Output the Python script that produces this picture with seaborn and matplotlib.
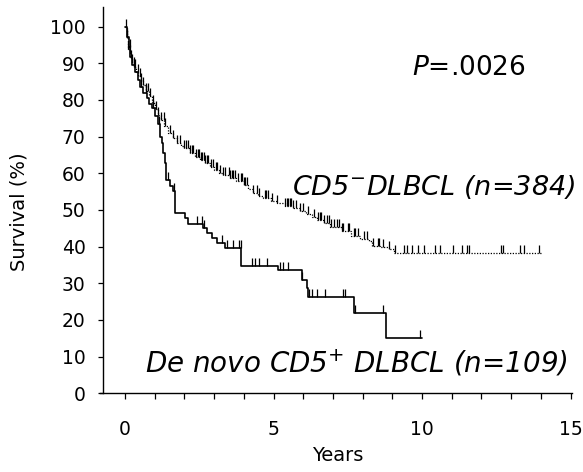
import numpy as np
import pandas as pd
import matplotlib.pyplot as plt
import seaborn as sns
from matplotlib.ticker import MultipleLocator

# CD5- DLBCL (n=384): step times (years) and survival (%)
neg_t = [0, 0.05, 0.1, 0.15, 0.2, 0.25, 0.3, 0.38, 0.45, 0.52, 0.6, 0.7, 0.8, 0.9, 1.0,
         1.1, 1.2, 1.32, 1.45, 1.6, 1.75, 1.88, 2.0, 2.18, 2.35, 2.52, 2.7, 2.85, 3.0,
         3.15, 3.3, 3.55, 3.75, 4.0, 4.15, 4.3, 4.48, 4.65, 4.9, 5.1, 5.4, 5.65, 5.9,
         6.1, 6.3, 6.45, 6.7, 6.9, 7.3, 7.6, 7.9, 8.2, 8.3, 8.6, 8.9, 9.05]
neg_s = [100, 97, 94, 92.8, 91.5, 90.3, 89, 87.6, 86.5, 85.2, 84, 82.5, 81, 79.2, 77.5,
         76, 74.5, 72.8, 71, 69.6, 68.3, 67.5, 66.8, 65.6, 64.5, 63.6, 62.7, 61.8, 61,
         60.2, 59.5, 58.8, 57.8, 56.8, 55.6, 54.5, 53.8, 53.2, 52.5, 51.8, 51.1, 50.4, 49.7,
         49, 48.2, 47.3, 46.4, 45.4, 44.2, 42.8, 42.2, 41.6, 40.2, 39.8, 39.4, 38.2]
neg_end = 14.0
neg_cens = [0.05, 0.1, 0.15, 0.2, 0.25, 0.3, 0.35, 0.42, 0.5, 0.55, 0.62, 0.7, 0.78, 0.85,
            0.95, 1.05, 1.1, 1.2, 1.3, 1.35, 1.5, 1.62, 1.75, 1.85, 2.0, 2.05, 2.12, 2.2,
            2.25, 2.3, 2.38, 2.45, 2.5, 2.55, 2.6, 2.65, 2.7, 2.75, 2.8, 2.9, 2.95, 3.05,
            3.1, 3.2, 3.3, 3.35, 3.5, 3.55, 3.6, 3.65, 3.7, 3.8, 3.9, 3.95, 4.0, 4.05, 4.1,
            4.3, 4.45, 4.5, 4.7, 4.75, 4.8, 4.95, 5.1, 5.4, 5.45, 5.5, 5.55, 5.6, 5.65,
            5.75, 5.9, 6.0, 6.15, 6.35, 6.5, 6.55, 6.6, 6.7, 6.8, 6.85, 6.95, 7.05, 7.15,
            7.2, 7.3, 7.35, 7.5, 7.55, 7.7, 7.75, 7.85, 8.05, 8.15, 8.35, 8.5, 8.55, 8.7,
            8.9, 9.1, 9.4, 9.5, 9.65, 9.85, 10.05, 10.45, 10.6, 11.05, 11.35, 11.5, 11.58,
            12.65, 12.72, 13.3, 13.42, 13.95]

# De novo CD5+ DLBCL (n=109)
pos_t = [0, 0.05, 0.12, 0.17, 0.25, 0.33, 0.45, 0.5, 0.6, 0.73, 0.82, 0.9, 1.0, 1.1,
         1.18, 1.24, 1.29, 1.33, 1.37, 1.5, 1.6, 1.68, 2.02, 2.13, 2.64, 2.75, 2.92,
         3.09, 3.37, 3.91, 5.16, 5.95, 6.12, 6.17, 7.71, 8.79]
pos_s = [100, 97.2, 94.5, 91.7, 89.5, 87.5, 85.5, 83.5, 82, 80.5, 79, 77.8, 75.5, 73.5,
         70, 68.2, 65.5, 62.7, 58.2, 56.4, 55.2, 49.1, 47.7, 46.3, 45, 43.6, 42.3,
         41.1, 39.5, 34.8, 33.6, 31, 28.6, 26.3, 22.0, 15.0]
pos_end = 10.0
pos_cens = [0.03, 0.08, 0.15, 0.3, 0.55, 0.7, 0.95, 1.15, 1.45, 1.65, 2.43, 2.6, 2.66,
            3.26, 3.42, 3.65, 3.85, 3.89, 4.27, 4.38, 4.52, 4.77, 5.22, 5.31, 5.5, 5.95,
            6.21, 6.29, 6.45, 6.73, 7.33, 7.41, 7.74, 8.68, 9.93]

sns.set_style("ticks")
plt.rcParams['font.family'] = ['DejaVu Sans']
plt.rcParams['mathtext.fontset'] = 'dejavusans'
for key in ['text.color', 'axes.labelcolor', 'xtick.color', 'ytick.color']:
    plt.rcParams[key] = 'black'

fig = plt.figure(figsize=(5.83, 4.72), dpi=100)
ax = fig.add_axes([0.1707, 0.1667, 0.8105, 0.819])

tick_mark = [(0, 0), (0, 1)]


def km(t, s, end, cens, ls, lw):
    df = pd.DataFrame({'t': t + [end], 's': s + [s[-1]]})
    sns.lineplot(data=df, x='t', y='s', drawstyle='steps-post', color='black',
                 linestyle=ls, linewidth=lw, estimator=None, ax=ax)
    idx = np.searchsorted(t, cens, side='right') - 1
    ax.plot(cens, np.array(s)[idx], ls='none', marker=tick_mark, ms=11.5,
            mec='black', mew=0.9)


km(neg_t, neg_s, neg_end, neg_cens, (0, (1, 1.2)), 0.9)
km(pos_t, pos_s, pos_end, pos_cens, '-', 1.2)

ax.set_xlim(-0.86, 15.05)
ax.set_ylim(0, 105.4)
ax.spines['top'].set_visible(False)
ax.spines['right'].set_visible(False)
ax.spines['left'].set_position(('data', -0.74))
for sp in ['left', 'bottom']:
    ax.spines[sp].set_linewidth(1.0)
    ax.spines[sp].set_color('black')

ax.set_xticks([0, 5, 10, 15])
ax.xaxis.set_minor_locator(MultipleLocator(1))
ax.set_yticks(range(0, 101, 10))
ax.tick_params(axis='x', which='both', direction='out', length=4, width=0.9,
               pad=15, labelsize=13.5)
ax.tick_params(axis='y', direction='out', length=3.6, width=0.9,
               pad=9, labelsize=13.5)

ax.set_xlabel('Years', fontsize=14)
ax.set_ylabel('Survival (%)', fontsize=14)
ax.xaxis.set_label_coords(0.505, -0.136)
ax.yaxis.set_label_coords(-0.15, 0.47)

ax.text(9.66, 86.8, r'$P$=.0026', fontsize=19, va='baseline')
ax.text(5.62, 54.1, r'CD5$^{-}$DLBCL (n=384)', fontsize=19.5, style='italic', va='baseline')
ax.text(0.67, 5.55, r'De novo CD5$^{+}$ DLBCL (n=109)', fontsize=20, style='italic',
        va='baseline')

fig.savefig('out.png', dpi=100)
